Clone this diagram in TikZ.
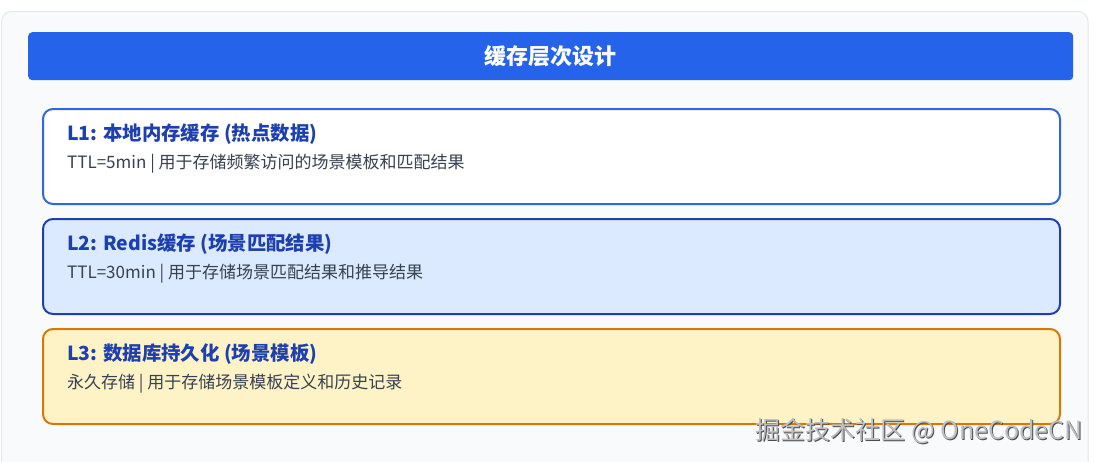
\documentclass[tikz,border=0pt]{standalone}
\usepackage{fontspec}
\setmainfont{Noto Sans CJK SC}
\definecolor{panelbg}{HTML}{F9FAFB}
\definecolor{panelline}{HTML}{E5E7EB}
\definecolor{headblue}{HTML}{2563EB}
\definecolor{lonebord}{HTML}{2F67DC}
\definecolor{ltwofill}{HTML}{DBEAFE}
\definecolor{ltwobord}{HTML}{1E40AF}
\definecolor{lthreefill}{HTML}{FEF3C7}
\definecolor{lthreebord}{HTML}{D97706}
\definecolor{titleblue}{HTML}{1E40AF}
\definecolor{subgray}{HTML}{374151}
\tikzset{
  levelbox/.style={rectangle, rounded corners=10pt, line width=2pt, minimum width=1017pt, minimum height=95pt, anchor=north west, inner sep=0pt},
  leveltitle/.style={anchor=west, inner sep=0pt, text=titleblue, font=\fontsize{19.4}{23}\selectfont\bfseries},
  levelsub/.style={anchor=west, inner sep=0pt, text=subgray, font=\fontsize{17}{20}\selectfont},
  watermark/.style={anchor=east, inner sep=0pt, font=\fontsize{25}{29}\selectfont},
}
\begin{document}
\begin{tikzpicture}[x=1pt,y=-1pt]
\useasboundingbox (0,0) rectangle (1099,461);
\fill[white] (0,0) rectangle (1099,461);
\begin{scope}
\clip (0,0) rectangle (1099,461);
\draw[panelline, fill=panelbg, line width=1pt, rounded corners=10pt] (1.5,11.5) rectangle (1088,480);
\end{scope}
\node[rectangle, rounded corners=4pt, fill=headblue, minimum width=1045pt, minimum height=48pt, anchor=north west, inner sep=0pt,
  text=white, font=\fontsize{22}{26}\selectfont\bfseries] (head) at (28,32) {缓存层次设计};

\node[levelbox, draw=lonebord, fill=white] (l1) at (42,108) {};
\node[levelbox, draw=ltwobord, fill=ltwofill] (l2) at (42,218) {};
\node[levelbox, draw=lthreebord, fill=lthreefill] (l3) at (42,328) {};

\node[leveltitle] (t1) at (67,134) {L1: 本地内存缓存 (热点数据)};
\node[levelsub] (s1) at (67,164) {TTL=5min | 用于存储频繁访问的场景模板和匹配结果};
\node[leveltitle] (t2) at (67,244) {L2: Redis缓存 (场景匹配结果)};
\node[levelsub] (s2) at (67,274) {TTL=30min | 用于存储场景匹配结果和推导结果};
\node[leveltitle] (t3) at (67,354) {L3: 数据库持久化 (场景模板)};
\node[levelsub] (s3) at (67,384) {永久存储 | 用于存储场景模板定义和历史记录};

\node[watermark, text=black!70] (wmshadow) at (1084,432.5) {掘金技术社区 @ OneCodeCN};
\node[watermark, text=black!25] (wm) at (1083,431.5) {掘金技术社区 @ OneCodeCN};
\end{tikzpicture}
\end{document}
